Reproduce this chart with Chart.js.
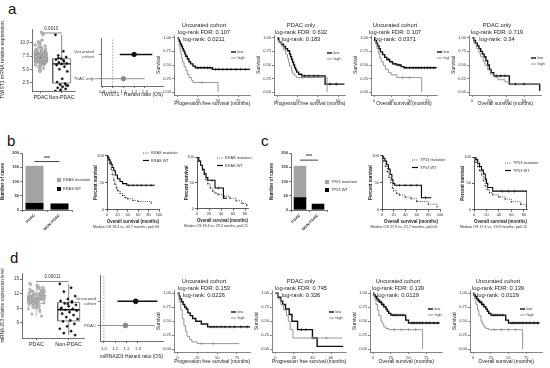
<!DOCTYPE html>
<html><head><meta charset="utf-8">
<script src="https://cdn.jsdelivr.net/npm/chart.js@4.4.1/dist/chart.umd.min.js"></script>
<style>
html,body{margin:0;padding:0;background:#fff}
body{position:relative;width:550px;height:368px;overflow:hidden}
canvas{position:absolute}
.pl{position:absolute;font:15px/15px "Liberation Sans",Arial,sans-serif;color:#111}
</style></head><body>
<div class="pl" style="left:8px;top:1px">a</div>
<div class="pl" style="left:7px;top:133px">b</div>
<div class="pl" style="left:261px;top:133px">c</div>
<div class="pl" style="left:10px;top:250px">d</div>
<script>
/* ================= DATA ================= */
const boxCats = ['PDAC', 'Non-PDAC'];
// a – TWIST1 expression
const twistPDAC = [7.1,6.8,7.5,8.2,6.5,7.9,7.3,6.9,8.8,6.2,7.6,7.0,9.2,6.7,7.4,8.0,5.9,7.2,6.6,8.5,7.8,6.4,7.7,9.6,6.1,7.1,8.3,5.6,6.9,7.5,10.2,6.3,7.9,8.7,5.2,7.3,6.8,9.0,7.6,6.0,8.1,7.0,10.5,6.6,7.4,4.8,8.4,7.2,6.5,9.4,7.8,5.8,11.5,6.9,7.1,8.9,6.4,7.7,5.4,8.0,12.0,7.3,6.7,9.8,7.5,6.2,8.6,7.0,4.6,7.9,6.8,7.2,8.2,6.0,7.4,6.3,7.6,8.1];
const twistNonPDAC = [11.5,8.4,7.6,7.3,7.0,6.8,6.5,6.3,6.1,6.0,5.8,5.5,5.0,4.6,3.2,2.6,2.3,2.1,1.9,1.7,1.5,1.3,1.1,0.9,6.7,7.1,2.0];
const twistPDACBox = [4.6, 6.2, 7.1, 8.0, 10.5];   // lo, q1, median, q3, hi
const twistNonBox  = [0.9, 2.4, 6.0, 7.0, 11.5];
const twistP = '0.0010';
const twistTicks = [2.5, 5, 7.5, 10];
// a – forest
const forestACats = [['Uncurated', 'cohort'], 'PDAC only'];
const forestAHR = [1.2, 1.1];
const forestALo = [1.065, 0.83];
const forestAHi = [1.37, 1.3];
const forestATicks = [0.9, 1.0, 1.1, 1.2, 1.3];
// d – miRNA-203 expression
const mirPDAC = [10.9,10.4,11.5,12.0,9.9,11.2,9.5,12.5,10.9,10.5,12.9,11.3,9.8,11.7,9.2,11.0,12.3,10.4,11.6,13.5,10.1,10.8,11.9,8.9,11.4,10.3,12.6,11.1,9.7,13.2,10.7,12.1,10.0,11.5,8.3,11.8,10.9,10.6,13.9,11.3,10.2,12.4,9.6,11.0,12.7,10.5,11.2,12.0,7.8,11.6,9.9,12.2,10.8,9.3,13.3,11.1,10.4,11.7,11.5,10.1,13.7,10.7,11.9,9.1,11.4,10.6,12.5,7.4,11.0,10.3,13.0,11.2,11.8,9.8,11.6,8.8,12.3,10.9,10.5,14.1,11.3,10.0,12.8,9.4,11.1];
const mirNonPDAC = [14.0,13.2,12.4,11.5,10.9,10.5,10.2,10.0,9.7,9.4,9.1,8.9,8.7,8.5,8.2,7.9,7.6,7.2,6.8,6.5,6.3,5.8,5.3,4.8,4.3,3.9,3.5,9.9,8.8,10.4];
const mirPDACBox = [7.4, 10.0, 10.9, 11.7, 14.1];
const mirNonBox  = [3.5, 6.4, 8.7, 10.2, 14.0];
const mirP = '0.00011';
const mirTicks = [6, 9, 12, 15];
// d – forest
const forestDCats = [['Uncurated', 'cohort'], 'PDAC'];
const forestDHR = [1.28, 1.19];
const forestDLo = [1.12, 0.97];
const forestDHi = [1.47, 1.45];
const forestDTicks = [1.0, 1.1, 1.2, 1.3];
// b / c – bars
const barCats = ['PDAC', 'NON-PDAC'];
const krasWT = [25, 23], krasMut = [130, 0];
const tp53WT = [45, 22], tp53Mut = [110, 0];
const casesTicks = [0, 50, 100, 150, 200];

// survival curves (time in months, survival fraction); *C = censor times
const a1LowT=[0,1,2,3,4,5,6,7,8,9,10,12,14,16,19,22,43,90], a1LowS=[1,0.97,0.94,0.9,0.87,0.84,0.8,0.77,0.74,0.7,0.66,0.61,0.56,0.52,0.48,0.45,0.42,0.42], a1LowC=[25,29,33,37,40,47,51,56,61,66,72,78,84];
const a1HighT=[0,1,2,3,4,5,6,8,10,12,14,17,19,50], a1HighS=[1,0.92,0.85,0.77,0.7,0.62,0.55,0.47,0.4,0.33,0.27,0.22,0.18,0], a1HighC=[30];
const a2LowT=[0,1,2,4,6,8,10,12,13,14,15,16,17,18,19,21,24,47,66], a2LowS=[1,0.96,0.92,0.88,0.84,0.8,0.76,0.7,0.65,0.6,0.55,0.5,0.45,0.41,0.37,0.33,0.3,0.15,0.15], a2LowC=[27,31,36,40,52,58];
const a2HighT=[0,2,4,6,8,10,11,12,14,15,17,19,49], a2HighS=[1,0.92,0.85,0.78,0.7,0.62,0.55,0.48,0.4,0.34,0.3,0.27,0], a2HighC=[25,34];
const a3LowT=[0,1,3,5,7,9,12,15,18,22,26,32,38,42,88], a3LowS=[1,0.95,0.9,0.85,0.8,0.74,0.69,0.64,0.6,0.56,0.52,0.5,0.47,0.45,0.45], a3LowC=[20,29,35,45,50,55,59,63,67,71,75,79,84];
const a3HighT=[0,2,4,6,8,10,13,16,20,24,32,67], a3HighS=[1,0.9,0.8,0.71,0.63,0.56,0.49,0.42,0.36,0.32,0.27,0], a3HighC=[40,50];
const a4LowT=[0,2,4,6,8,10,12,14,16,18,20,22,25,43,78], a4LowS=[1,0.95,0.9,0.85,0.8,0.75,0.7,0.65,0.58,0.5,0.42,0.36,0.3,0.15,0.03], a4LowC=[28,33,38,50,60];
const a4HighT=[0,2,5,8,10,13,15,18,21,25,30,38,44,78], a4HighS=[1,0.9,0.8,0.72,0.65,0.56,0.49,0.41,0.33,0.28,0.23,0.19,0.15,0.15], a4HighC=[55,65];
const d1LowT=[0,2,3,5,7,9,11,13,16,19,23,30,38,92], d1LowS=[1,0.95,0.9,0.85,0.8,0.75,0.72,0.65,0.6,0.55,0.5,0.45,0.4,0.4], d1LowC=[42,46,50,55,60,66,72,80,88];
const d1HighT=[0,2,4,6,8,10,12,15,18,25,78], d1HighS=[1,0.85,0.7,0.55,0.42,0.32,0.23,0.17,0.13,0.1,0.1], d1HighC=[30,45];
const d2LowT=[0,3,6,8,11,15,18,24,40,45,73], d2LowS=[1,0.93,0.86,0.8,0.72,0.62,0.5,0.35,0.2,0.05,0.05], d2LowC=[28,33];
const d2HighT=[0,3,6,9,12,14,16,19,72], d2HighS=[1,0.9,0.8,0.7,0.6,0.5,0.35,0.2,0.2], d2HighC=[40,55];
const d3LowT=[0,1,3,5,7,9,12,15,18,20,22,25,46,50,94], d3LowS=[1,0.97,0.94,0.9,0.87,0.84,0.8,0.76,0.72,0.68,0.64,0.61,0.52,0.47,0.47], d3LowC=[4,8,11,14,28,31,34,38,42,55,58,62,66,70,75,80,86,91];
const d3HighT=[0,2,4,6,8,11,13,15,18,22,70], d3HighS=[1,0.9,0.8,0.7,0.6,0.5,0.45,0.4,0.37,0.35,0], d3HighC=[30,40,50,60];
// percent survival (GraphPad panels)
const b1WtT=[0,2,4,6,8,10,13,16,20,25,30,38,92], b1WtS=[100,96,92,88,84,78,72,64,57,52,48,45,45], b1WtC=[42,50,58,66,75,85];
const b1MutT=[0,3,5,8,10,13,15,18,20,25,30,35,40,50,60,85], b1MutS=[100,92,85,75,65,55,47,40,35,30,26,22,20,17,15,12];
const b2WtT=[0,3,6,9,12,15,18,30,44,50], b2WtS=[100,92,84,76,68,60,55,40,20,20], b2WtC=[25,36];
const b2MutT=[0,3,6,9,12,15,18,22,26,30,35,45,55,65,75,83], b2MutS=[100,92,84,75,66,56,48,40,34,30,27,24,20,15,10,6];
const c1WtT=[0,2,5,8,11,14,17,19,22,68,85], c1WtS=[100,95,90,83,75,65,55,48,45,22,22], c1WtC=[30,40,50,60,75];
const c1MutT=[0,3,6,9,12,15,18,20,25,30,40,50,60,80,95], c1MutS=[100,90,80,70,60,50,40,35,30,27,23,20,15,10,5];
const c2WtT=[0,3,6,9,12,15,18,20,22,30,85], c2WtS=[100,95,88,82,75,68,58,50,42,35,0], c2WtC=[45,55,65];
const c2MutT=[0,3,6,9,12,15,18,21,25,30,40,50,60,75,84], c2MutS=[100,90,82,74,66,55,45,38,32,28,24,20,15,10,6];

const survTicks = [0, 0.25, 0.5, 0.75, 1];
const pctTicks = [0, 50, 100];

/* ================= HELPERS ================= */
const FONT = '"Liberation Sans", Arial, sans-serif';
Chart.defaults.font.family = FONT;
Chart.defaults.color = '#333';
Chart.defaults.animation = false;
Chart.defaults.responsive = false;
Chart.defaults.maintainAspectRatio = false;
Chart.defaults.devicePixelRatio = 1;
Chart.defaults.events = [];
Chart.defaults.plugins.legend.display = false;
Chart.defaults.plugins.tooltip.enabled = false;
Chart.defaults.elements.point.radius = 0;

const BLACK = '#111', GREY = '#8a8a8a';

function mk(x, y, w, h) {
  const c = document.createElement('canvas');
  x = Math.round(x); y = Math.round(y); w = Math.round(w); h = Math.round(h);
  c.width = w; c.height = h;
  c.style.left = x + 'px'; c.style.top = y + 'px';
  c.style.width = w + 'px'; c.style.height = h + 'px';
  document.body.appendChild(c);
  c._ox = x; c._oy = y;
  return c;
}
function survAt(t, s, x) { let v = s[0]; for (let i = 0; i < t.length; i++) if (t[i] <= x) v = s[i]; return v; }
const jit = i => ((i * 37) % 23) / 22 - 0.5;

function S(o) {
  const s = {
    type: o.type || 'linear', position: o.pos, offset: !!o.offset,
    border: { display: true, color: o.ac || '#333', width: o.aw || 0.7 },
    grid: { display: true, drawOnChartArea: false, drawTicks: true, tickLength: o.tl == null ? 2 : o.tl, color: o.ac || '#333', lineWidth: o.aw || 0.7 },
    ticks: { font: { size: o.fs || 4.3, weight: o.fb ? 'bold' : 'normal' }, color: o.tc || '#333', padding: o.tp == null ? 1 : o.tp, autoSkip: false, maxRotation: o.rot || 0, minRotation: o.rot || 0 },
    title: { display: !!o.title, text: o.title || '', font: { size: o.ts || 5.2, weight: o.tb ? 'bold' : 'normal' }, color: '#222', padding: { top: 0, bottom: 0 } },
    afterFit: (sc) => { if (o.pos === 'left') sc.width = o.fix; else sc.height = o.fix; }
  };
  if (o.min != null) s.min = o.min;
  if (o.max != null) s.max = o.max;
  if (o.ticksAt) s.afterBuildTicks = (sc) => { sc.ticks = o.ticksAt.map(v => ({ value: v })); };
  if (o.fmt) s.ticks.callback = o.fmt;
  if (o.stacked) s.stacked = true;
  return s;
}

const overlay = {
  id: 'overlay',
  afterDraw(ch) {
    const o = ch.canvas.__ov; if (!o) return;
    const g = ch.ctx; g.save();
    (o.texts || []).forEach(t => {
      g.font = (t.bold ? 'bold ' : '') + t.size + 'px ' + FONT;
      g.fillStyle = t.color || '#333'; g.textAlign = 'center'; g.textBaseline = 'middle';
      g.fillText(t.text, ch.scales.x.getPixelForValue(t.x), ch.scales.y.getPixelForValue(t.y));
    });
    if (o.leg) {
      const L = o.leg;
      g.font = (L.bold ? 'bold ' : '') + L.size + 'px ' + FONT;
      g.textBaseline = 'middle'; g.textAlign = 'left';
      L.items.forEach((it, i) => {
        const yy = L.y + i * L.gap;
        if (it.box) { g.fillStyle = it.color; g.fillRect(L.x, yy - L.bs / 2, L.bs, L.bs); }
        else {
          g.strokeStyle = it.color; g.lineWidth = it.width; g.setLineDash(it.dash || []);
          g.beginPath(); g.moveTo(L.x, yy); g.lineTo(L.x + L.len, yy); g.stroke(); g.setLineDash([]);
        }
        g.fillStyle = '#333';
        g.fillText(it.label, L.x + (it.box ? L.bs : L.len) + L.sp, yy);
      });
    }
    g.restore();
  }
};
Chart.register(overlay);

function km(g) {
  const cx = g.L - g.yW, cy = g.top;
  const subH = g.sub ? g.subFs * 1.2 : 0;
  const cv = mk(cx, cy, g.R + g.padR - cx, g.B + g.xH + subH - cy);
  const ds = [];
  g.curves.forEach(cu => {
    ds.push({ type: 'line', data: cu.t.map((x, i) => ({ x, y: cu.s[i] })), stepped: 'before', borderColor: cu.color, borderWidth: cu.w, borderDash: cu.dash || [], pointRadius: cu.mr || 0, pointBackgroundColor: cu.color, pointBorderWidth: 0, fill: false, order: 2 });
    if (cu.c) ds.push({ type: 'scatter', data: cu.c.map(x => ({ x, y: survAt(cu.t, cu.s, x) })), pointStyle: cu.cs || 'cross', rotation: cu.cs === 'line' ? 90 : 0, pointRadius: cu.cr || 1.5, pointBorderColor: cu.color, pointBorderWidth: 0.6, showLine: false, order: 1 });
  });
  const plugins = {};
  let padTop = 0;
  if (g.title) {
    const th = g.title.length * g.tfs * 1.2;
    plugins.title = { display: true, text: g.title, font: { size: g.tfs, lineHeight: 1.2, weight: 'normal' }, color: '#222', padding: { top: 0, bottom: (g.T - cy) - th } };
  } else padTop = g.T - cy;
  if (g.sub) plugins.subtitle = { display: true, position: 'bottom', text: g.sub, font: { size: g.subFs, lineHeight: 1.2, weight: 'normal' }, color: '#333', padding: { top: 0, bottom: 0 } };
  if (g.leg) { g.leg.x -= cv._ox; g.leg.y -= cv._oy; cv.__ov = { leg: g.leg }; }
  new Chart(cv, {
    type: 'scatter', data: { datasets: ds },
    options: {
      layout: { padding: { left: 0, right: g.padR, top: padTop, bottom: 0 } }, plugins,
      scales: {
        x: S({ pos: 'bottom', min: g.xmin, max: g.xmax, ticksAt: g.xt, fix: g.xH, title: g.xTitle, fs: g.fs, ts: g.ts, tb: g.tb, aw: g.aw }),
        y: S({ pos: 'left', min: g.ymin, max: g.ymax, ticksAt: g.yt, fmt: g.yfmt, fix: g.yW, title: g.yTitle, fs: g.fs, ts: g.ts, tb: g.tb, aw: g.aw })
      }
    }
  });
}

function boxChart(g) {
  const cx = g.L - g.yW, cy = g.T - g.padT;
  const cv = mk(cx, cy, g.R + g.padR - cx, g.B + g.xH - cy);
  const ds = [];
  g.groups.forEach((gr, k) => {
    const c = k + 1, [lo, q1, md, q3, hi] = gr.box, h = gr.hw;
    ds.push({ type: 'scatter', data: gr.vals.map((v, i) => ({ x: c + jit(i) * gr.js, y: v })), pointRadius: gr.pr, pointBackgroundColor: gr.pf, pointBorderColor: gr.pc, pointBorderWidth: 0.5, order: 1 });
    ds.push({ type: 'line', data: [{ x: c, y: lo }, { x: c, y: q1 }, { x: c, y: null }, { x: c, y: q3 }, { x: c, y: hi }], borderColor: gr.bc, borderWidth: 0.7, pointRadius: 0, spanGaps: false, order: 3 });
    ds.push({ type: 'line', data: [{ x: c - h, y: q1 }, { x: c + h, y: q1 }, { x: c + h, y: q3 }, { x: c - h, y: q3 }, { x: c - h, y: q1 }], borderColor: gr.bc, borderWidth: 0.7, pointRadius: 0, order: 3 });
    ds.push({ type: 'line', data: [{ x: c - h, y: md }, { x: c + h, y: md }], borderColor: BLACK, borderWidth: gr.mw, pointRadius: 0, order: 2 });
  });
  ds.push({ type: 'line', data: [{ x: 1, y: g.sigY }, { x: 2, y: g.sigY }], borderColor: '#333', borderWidth: 0.6, pointRadius: 0, order: 4 });
  cv.__ov = { texts: [{ text: g.sigText, x: 1.5, y: g.sigTY, size: g.sigFs }] };
  new Chart(cv, {
    type: 'scatter', data: { datasets: ds },
    options: {
      layout: { padding: { left: 0, right: g.padR, top: g.padT, bottom: 0 } },
      scales: {
        x: S({ pos: 'bottom', min: g.xmin, max: g.xmax, ticksAt: [1, 2], fmt: v => boxCats[v - 1], fix: g.xH, fs: g.xfs, tc: '#222' }),
        y: S({ pos: 'left', min: g.ymin, max: g.ymax, ticksAt: g.yt, fmt: g.yfmt, fix: g.yW, title: g.yTitle, fs: g.fs, ts: g.ts })
      }
    }
  });
}

function forest(g) {
  const cx = g.L - g.yW, cy = g.T - g.padT;
  const cv = mk(cx, cy, g.R + g.padR - cx, g.B + g.xH - cy);
  const n = g.hr.length;
  const ds = [{ type: 'line', data: [{ x: 1, y: g.ymin }, { x: 1, y: g.ymax }], borderColor: '#777', borderWidth: 0.7, borderDash: [1.5, 1.5], pointRadius: 0, order: 3 }];
  g.hr.forEach((h, i) => {
    const y = n - i;
    ds.push({ type: 'line', data: [{ x: g.lo[i], y }, { x: g.hi[i], y }], borderColor: g.cols[i], borderWidth: g.lw[i], pointRadius: 0, clip: false, order: 2 });
    ds.push({ type: 'scatter', data: [{ x: h, y }], pointRadius: g.pr, pointBackgroundColor: g.cols[i], pointBorderColor: g.cols[i], order: 1 });
  });
  new Chart(cv, {
    type: 'scatter', data: { datasets: ds },
    options: {
      layout: { padding: { left: 0, right: g.padR, top: g.padT, bottom: 0 } },
      scales: {
        x: S({ pos: 'bottom', min: g.xmin, max: g.xmax, ticksAt: g.xt, fmt: v => v.toFixed(1), fix: g.xH, title: g.xTitle, fs: 4.3, ts: 5, tp: g.tp }),
        y: S({ pos: 'left', min: g.ymin, max: g.ymax, ticksAt: [1, 2], fmt: v => g.cats[n - v], fix: g.yW, fs: 4.3, tc: '#444', tp: g.ytp })
      }
    }
  });
}

function bars(g) {
  const cx = g.L - g.yW, cy = g.T - g.padT;
  const cv = mk(cx, cy, g.R + g.padR - cx, g.B + g.xH - cy);
  g.leg.x -= cv._ox; g.leg.y -= cv._oy;
  cv.__ov = { texts: [{ text: '***', x: 0.5, y: g.sigY + 12, size: 5, bold: true }], leg: g.leg };
  new Chart(cv, {
    type: 'bar',
    data: {
      labels: barCats,
      datasets: [
        { label: g.names[1], data: g.wt, backgroundColor: '#000', barPercentage: g.bp, categoryPercentage: 1, stack: 's' },
        { label: g.names[0], data: g.mut, backgroundColor: '#a3a3a3', barPercentage: g.bp, categoryPercentage: 1, stack: 's' },
        { type: 'line', data: [g.sigY, g.sigY], borderColor: '#111', borderWidth: 0.8, pointRadius: 0, stack: 'sig' }
      ]
    },
    options: {
      layout: { padding: { left: 0, right: g.padR, top: g.padT, bottom: 0 } },
      scales: {
        x: S({ type: 'category', pos: 'bottom', offset: true, fix: g.xH, fs: 4, rot: 45, stacked: true, fb: true }),
        y: S({ pos: 'left', min: 0, max: 200, ticksAt: casesTicks, fix: g.yW, title: 'Number of cases', fs: 4, ts: 4.6, tb: true, stacked: true, fb: true })
      }
    }
  });
}

/* ================= PANEL a ================= */
boxChart({ L: 32, R: 76, T: 29, B: 91, yW: 32, xH: 13, padT: 9, padR: 4, xmin: 0.571, xmax: 2.667, ymin: 0.9, ymax: 12.6,
  yt: twistTicks, yfmt: v => v.toFixed(1), yTitle: 'TWIST1 mRNA relative expression', fs: 4.6, ts: 5, xfs: 5.2,
  groups: [
    { vals: twistPDAC, box: twistPDACBox, hw: 0.29, js: 0.55, pr: 1.3, pf: '#c8c8c8', pc: '#777', bc: '#888', mw: 0.9 },
    { vals: twistNonPDAC, box: twistNonBox, hw: 0.43, js: 0.6, pr: 1.1, pf: '#111', pc: '#111', bc: '#555', mw: 1.3 }
  ], sigY: 11.85, sigTY: 12.65, sigText: twistP, sigFs: 4.6 });

forest({ L: 101, R: 165, T: 33, B: 86, yW: 27, xH: 12, padT: 5, padR: 3, xmin: 0.89, xmax: 1.47, ymin: 0.7, ymax: 2.67,
  xt: forestATicks, xTitle: 'TWIST1 - Hazard ratio (OS)', cats: forestACats, hr: forestAHR, lo: forestALo, hi: forestAHi,
  cols: [BLACK, GREY], lw: [1.4, 0.9], pr: 2.2, tp: 1, ytp: 5 });

const lowHigh = [{ label: 'low', color: BLACK, width: 1.4 }, { label: 'high', color: GREY, width: 0.9 }];
function kmA(o) {
  km(Object.assign({ yW: 18, xH: 12, ymin: -0.05, ymax: 1.05, yt: survTicks, yfmt: v => v.toFixed(2), yTitle: 'Survival',
    fs: 4, ts: 5, tfs: 5.8, aw: 0.6 }, o));
}
const lg = (x, y) => ({ x, y, gap: 6, len: 5, sp: 1.5, size: 3.8, items: lowHigh });
const crv = (lt, ls, lc, ht, hs, hc) => [
  { t: ht, s: hs, c: hc, color: GREY, w: 0.9 },
  { t: lt, s: ls, c: lc, color: BLACK, w: 1.4 }
];
kmA({ L: 174, R: 252, T: 35, B: 95, top: 22, padR: 3, xmin: -4.5, xmax: 90, xt: [0, 25, 50, 75], xTitle: 'Progression free survival (months)',
  title: ['Uncurated cohort', 'log-rank FDR: 0.107', 'log-rank: 0.0211'], curves: crv(a1LowT, a1LowS, a1LowC, a1HighT, a1HighS, a1HighC), leg: lg(231, 52) });
kmA({ L: 274, R: 346, T: 35, B: 95, top: 22, padR: 4, xmin: -3.3, xmax: 67, xt: [0, 20, 40, 60], xTitle: 'Progression free survival (months)',
  title: ['PDAC only', 'log-rank FDR: 0.632', 'log-rank: 0.183'], curves: crv(a2LowT, a2LowS, a2LowC, a2HighT, a2HighS, a2HighC), leg: lg(327, 53) });
kmA({ L: 371, R: 437, T: 35, B: 95, top: 22, padR: 12, xmin: -4.3, xmax: 88.5, xt: [0, 25, 50, 75], xTitle: 'Overall survival (months)',
  title: ['Uncurated cohort', 'log-rank FDR: 0.107', 'log-rank: 0.0371'], curves: crv(a3LowT, a3LowS, a3LowC, a3HighT, a3HighS, a3HighC), leg: lg(437, 52) });
kmA({ L: 469, R: 543, T: 35, B: 95, top: 22, padR: 3, xmin: -3.5, xmax: 80, xt: [0, 20, 40, 60], xTitle: 'Overall survival (months)',
  title: ['PDAC only', 'log-rank FDR: 0.719', 'log-rank: 0.34'], curves: crv(a4LowT, a4LowS, a4LowC, a4HighT, a4HighS, a4HighC), leg: lg(531, 58) });

/* ================= PANELS b / c ================= */
bars({ L: 22, R: 72, T: 153, B: 210, yW: 22, xH: 25, padT: 13, padR: 30, bp: 0.72, wt: krasWT, mut: krasMut, names: ['KRAS mutation', 'KRAS WT'], sigY: 170,
  leg: { x: 57, y: 180, gap: 9, bs: 4, sp: 2, size: 4, items: [{ label: 'KRAS mutation', color: '#a3a3a3', box: true }, { label: 'KRAS WT', color: '#000', box: true }] } });
bars({ L: 291, R: 327, T: 153, B: 210, yW: 22, xH: 25, padT: 13, padR: 36, bp: 0.7, wt: tp53WT, mut: tp53Mut, names: ['TP53 mutation', 'TP53 WT'], sigY: 175,
  leg: { x: 325, y: 182, gap: 8, bs: 4, sp: 2, size: 4, items: [{ label: 'TP53 mutation', color: '#a3a3a3', box: true }, { label: 'TP53 WT', color: '#000', box: true }] } });

function kmG(o) {
  km(Object.assign({ yW: 14, xH: 15, ymin: 0, ymax: 100, yt: pctTicks, yTitle: 'Percent survival', xTitle: 'Overall survival (months)',
    fs: 4, ts: 4.5, tb: true, aw: 0.8, subFs: 3.7 }, o));
}
const gcurves = (mt, ms, wt, ws, wc) => [
  { t: mt, s: ms, color: '#222', w: 0.8, dash: [1, 1.2], mr: 0.7 },
  { t: wt, s: ws, c: wc, cs: 'line', cr: 1.4, color: '#000', w: 1.1 }
];
const gleg = (x, y, a, b) => ({ x, y, gap: 7.5, len: 6, sp: 2, size: 3.9, items: [{ label: a, color: '#222', width: 0.8, dash: [1, 1.2] }, { label: b, color: '#000', width: 1.2 }] });
kmG({ L: 107, R: 159, T: 155, B: 210, top: 151, padR: 28, xmin: 0, xmax: 100, xt: [0, 20, 40, 60, 80, 100],
  curves: gcurves(b1MutT, b1MutS, b1WtT, b1WtS, b1WtC), sub: 'Median OS 19.4 vs. 43.7 months, p=0.09', leg: gleg(143, 153, 'KRAS mutation', 'KRAS WT') });
kmG({ L: 197, R: 248, T: 157, B: 209, top: 152, padR: 8, yW: 13, xmin: 0, xmax: 85, xt: [0, 20, 40, 60, 80],
  curves: gcurves(b2MutT, b2MutS, b2WtT, b2WtS, b2WtC), sub: 'Median OS 19.4 vs. 29.3 months, p=0.21', leg: gleg(217, 158, 'KRAS mutation', 'KRAS WT') });
kmG({ L: 382, R: 440, T: 155, B: 210, top: 151, padR: 12, xmin: 0, xmax: 100, xt: [0, 20, 40, 60, 80, 100],
  curves: gcurves(c1MutT, c1MutS, c1WtT, c1WtS, c1WtC), sub: 'Median OS 17.9 vs. 21.7 months, p=0.01', leg: gleg(412, 160, 'TP53 mutation', 'TP53 WT') });
kmG({ L: 474, R: 527, T: 157, B: 210, top: 152, padR: 20, xmin: 0, xmax: 85, xt: [0, 20, 40, 60, 80],
  curves: gcurves(c2MutT, c2MutS, c2WtT, c2WtS, c2WtC), sub: 'Median OS 17.4 vs. 19.9 months, p=0.15', leg: gleg(505, 163, 'TP53 mutation', 'TP53 WT') });

/* ================= PANEL d ================= */
boxChart({ L: 22, R: 85, T: 273, B: 338, yW: 22, xH: 13, padT: 11, padR: 4, xmin: 0.554, xmax: 2.49, ymin: 2.9, ymax: 16.24,
  yt: mirTicks, yfmt: v => String(v), yTitle: 'miRNA-203 relative expression level', fs: 4.6, ts: 4.6, xfs: 5.4,
  groups: [
    { vals: mirPDAC, box: mirPDACBox, hw: 0.26, js: 0.5, pr: 1.2, pf: '#c8c8c8', pc: '#888', bc: '#999', mw: 0.9 },
    { vals: mirNonPDAC, box: mirNonBox, hw: 0.34, js: 0.55, pr: 1.1, pf: '#111', pc: '#111', bc: '#555', mw: 1.4 }
  ], sigY: 14.5, sigTY: 15.5, sigText: mirP, sigFs: 4.6 });

forest({ L: 100, R: 165, T: 273, B: 341, yW: 25, xH: 19, padT: 5, padR: 3, xmin: 0.966, xmax: 1.52, ymin: 0.36, ymax: 3.08,
  xt: forestDTicks, xTitle: 'miRNA203 Hazard ratio (OS)', cats: forestDCats, hr: forestDHR, lo: forestDLo, hi: forestDHi,
  cols: [BLACK, GREY], lw: [1.4, 0.9], pr: 2.4, tp: 3, ytp: 2 });

kmA({ L: 174, R: 252, T: 290, B: 351, top: 277.5, xH: 13, padR: 3, xmin: -4.5, xmax: 92, xt: [0, 25, 50, 75], xTitle: 'Progression free survival (months)',
  title: ['Uncurated cohort', 'log-rank FDR: 0.153', 'log-rank: 0.0226'], curves: crv(d1LowT, d1LowS, d1LowC, d1HighT, d1HighS, d1HighC), leg: lg(231, 312) });
kmA({ L: 272, R: 348, T: 290, B: 351, top: 277.5, xH: 13, padR: 3, xmin: -3.5, xmax: 76.5, xt: [0, 20, 40, 60], xTitle: 'Progression free survival (months)',
  title: ['PDAC only', 'log-rank FDR: 0.745', 'log-rank: 0.326'], curves: crv(d2LowT, d2LowS, d2LowC, d2HighT, d2HighS, d2HighC), leg: lg(329, 312) });
kmA({ L: 370, R: 444, T: 290, B: 351, top: 277.5, xH: 13, padR: 3, xmin: -4.5, xmax: 98, xt: [0, 25, 50, 75], xTitle: 'Overall survival (months)',
  title: ['Uncurated cohort', 'log-rank FDR: 0.139', 'log-rank: 0.0129'], curves: crv(d3LowT, d3LowS, d3LowC, d3HighT, d3HighS, d3HighC), leg: lg(428, 309) });
kmA({ L: 470, R: 544, T: 290, B: 351, top: 277.5, xH: 13, padR: 3, xmin: -4.5, xmax: 98, xt: [0, 25, 50, 75], xTitle: 'Overall survival (months)',
  title: ['Uncurated cohort', 'log-rank FDR: 0.139', 'log-rank: 0.0129'], curves: crv(d3LowT, d3LowS, d3LowC, d3HighT, d3HighS, d3HighC), leg: lg(520, 309) });
</script>
</body></html>
